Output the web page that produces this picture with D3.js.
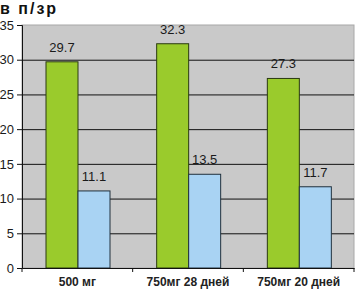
<!DOCTYPE html>
<html>
<head>
<meta charset="utf-8">
<script src="https://cdn.jsdelivr.net/npm/d3@7"></script>
<style>
  body { margin: 0; background: #fff; }
  text { font-family: "Liberation Sans", Arial, sans-serif; }
</style>
</head>
<body>
<script>
// Data
var categories = ["500 мг", "750мг 28 дней", "750мг 20 дней"];
var seriesA = [29.7, 32.3, 27.3];
var seriesB = [11.1, 13.5, 11.7];
var yTicks = [0, 5, 10, 15, 20, 25, 30, 35];

var width = 358, height = 289;
var plotL = 22, plotR = 354, plotT = 25, plotB = 268;

var svg = d3.select("body").append("svg").attr("width", width).attr("height", height);

var x = d3.scaleBand().domain(categories).range([plotL, plotR]).paddingInner(0).paddingOuter(0);
var y = d3.scaleLinear().domain([0, 35]).range([plotB, plotT]);

// Фон
svg.append("rect").attr("x", plotL).attr("y", plotT).attr("width", plotR - plotL).attr("height", plotB - plotT)
  .attr("fill", "#c9c9c9").attr("stroke", "#a8a8a8");

// Сетка
svg.selectAll(".grid").data(yTicks.slice(1, -1)).enter().append("line")
  .attr("x1", plotL).attr("x2", plotR)
  .attr("y1", function(d) { return y(d) + 0.5; }).attr("y2", function(d) { return y(d) + 0.5; })
  .attr("stroke", "#111").attr("stroke-width", 1);

// Столбцы
var barW = 32;
var offset = 24;
var rows = categories.map(function(c, i) { return {cat: c, a: seriesA[i], b: seriesB[i]}; });

svg.selectAll(".barA").data(rows).enter().append("rect")
  .attr("x", function(d) { return x(d.cat) + offset; })
  .attr("y", function(d) { return y(d.a); })
  .attr("width", barW)
  .attr("height", function(d) { return plotB - y(d.a); })
  .attr("fill", "#9acb2c").attr("stroke", "#2a3a10").attr("stroke-width", 1);

svg.selectAll(".barB").data(rows).enter().append("rect")
  .attr("x", function(d) { return x(d.cat) + offset + barW; })
  .attr("y", function(d) { return y(d.b); })
  .attr("width", barW)
  .attr("height", function(d) { return plotB - y(d.b); })
  .attr("fill", "#a9d3f3").attr("stroke", "#20303c").attr("stroke-width", 1);

// Подписи значений
svg.selectAll(".labA").data(rows).enter().append("text")
  .attr("x", function(d) { return x(d.cat) + offset + barW / 2; })
  .attr("y", function(d) { return y(d.a) - 10; })
  .attr("text-anchor", "middle").attr("font-size", 13).attr("fill", "#1a1a1a")
  .text(function(d) { return d.a.toFixed(1); });

svg.selectAll(".labB").data(rows).enter().append("text")
  .attr("x", function(d) { return x(d.cat) + offset + barW * 1.5; })
  .attr("y", function(d) { return y(d.b) - 10; })
  .attr("text-anchor", "middle").attr("font-size", 13).attr("fill", "#1a1a1a")
  .text(function(d) { return d.b.toFixed(1); });

// Оси
var yAxis = d3.axisLeft(y).tickValues(yTicks).tickSize(5).tickPadding(3);
var gy = svg.append("g").attr("transform", "translate(" + plotL + ",0)").call(yAxis);
gy.select(".domain").attr("stroke", "#111");
gy.selectAll(".tick line").attr("stroke", "#111");
gy.selectAll("text").attr("font-size", 13).attr("fill", "#1a1a1a")
  .style("font-family", "'Liberation Sans', Arial, sans-serif");

var xAxis = d3.axisBottom(x).tickSize(0).tickPadding(9);
var gx = svg.append("g").attr("transform", "translate(0," + plotB + ")").call(xAxis);
gx.select(".domain").attr("stroke", "#111");
gx.selectAll("text").attr("font-size", 12).attr("font-weight", "bold").attr("fill", "#222")
  .style("font-family", "'Liberation Sans', Arial, sans-serif");

// Деления между категориями
svg.selectAll(".xt").data(categories.concat([null])).enter().append("line")
  .attr("x1", function(d, i) { return plotL + i * x.bandwidth(); })
  .attr("x2", function(d, i) { return plotL + i * x.bandwidth(); })
  .attr("y1", plotB).attr("y2", plotB + 4)
  .attr("stroke", "#111");

// Заголовок оси
svg.append("text").attr("x", 0).attr("y", 14)
  .attr("font-size", 16).attr("font-weight", "bold").attr("letter-spacing", 2).attr("fill", "#111")
  .text("в п/зр");
</script>
</body>
</html>
